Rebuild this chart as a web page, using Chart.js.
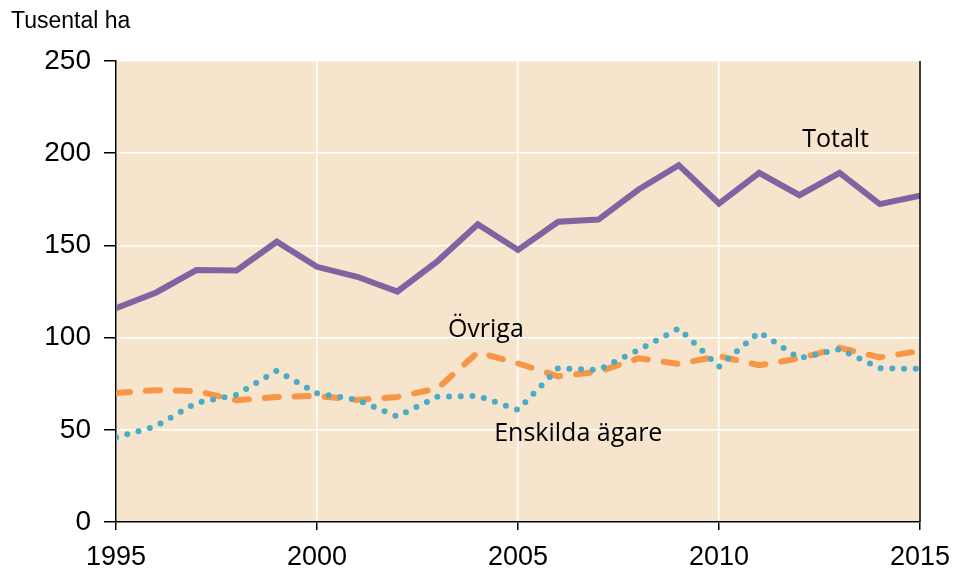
<!DOCTYPE html>
<html>
<head>
<meta charset="utf-8">
<script src="https://cdn.jsdelivr.net/npm/chart.js@4"></script>
<style>
  html, body { margin: 0; padding: 0; background: #ffffff; }
  #wrap { width: 956px; height: 573px; position: relative; }
</style>
</head>
<body>
<div id="wrap"><canvas id="areaChart"></canvas></div>
<script>
// Data (tusental ha)
const years = [1995, 1996, 1997, 1998, 1999, 2000, 2001, 2002, 2003, 2004, 2005,
               2006, 2007, 2008, 2009, 2010, 2011, 2012, 2013, 2014, 2015];
const totalt = [116, 124.5, 136.6, 136.4, 152, 138.4, 133, 125, 141.5, 161.5, 147.5,
                162.8, 164, 180.3, 193.5, 172.7, 189.3, 177.2, 189.3, 172.4, 176.9];
const ovriga = [70, 71.5, 71, 66, 67.8, 68.4, 66.2, 67.8, 72.5, 92, 86,
                79, 81.5, 88.8, 85.7, 90, 85, 88.8, 94.5, 89.3, 92.8];
const enskilda = [45.8, 52, 64.7, 69, 82, 69.8, 66.2, 57.2, 68, 68.4, 60.8,
                  83.4, 82.5, 93.3, 105, 84.2, 103, 88.8, 93.7, 83.4, 83];
const yTicks = [0, 50, 100, 150, 200, 250];
const xTicks = [1995, 2000, 2005, 2010, 2015];

// Series labels placed in data space
const seriesLabels = [
    { text: 'Totalt', x: 2012.9, y: 207 },
    { text: 'Övriga', x: 2004.2, y: 104 },
    { text: 'Enskilda ägare', x: 2006.5, y: 48 }
];

function toPoints(values) {
    return years.map(function(yr, i) { return { x: yr, y: values[i] }; });
}

// plot background + right border + text labels
const plotDecor = {
    id: 'plotDecor',
    beforeDraw: function(chart) {
        const a = chart.chartArea;
        const ctx = chart.ctx;
        ctx.save();
        ctx.fillStyle = '#F6E4CC';
        ctx.fillRect(a.left, a.top, a.right - a.left, a.bottom - a.top);
        ctx.restore();
    },
    afterDraw: function(chart) {
        const a = chart.chartArea;
        const ctx = chart.ctx;
        ctx.save();
        ctx.strokeStyle = '#000000';
        ctx.lineWidth = 1.5;
        ctx.beginPath();
        ctx.moveTo(a.right, a.top);
        ctx.lineTo(a.right, a.bottom);
        ctx.stroke();

        ctx.fillStyle = '#000000';
        ctx.font = '25px "Open Sans", "Noto Sans", sans-serif';
        ctx.textAlign = 'center';
        ctx.textBaseline = 'middle';
        seriesLabels.forEach(function(l) {
            ctx.fillText(l.text, chart.scales.x.getPixelForValue(l.x), chart.scales.y.getPixelForValue(l.y));
        });

        ctx.font = '23px "Liberation Sans", Arial, sans-serif';
        ctx.textAlign = 'left';
        ctx.textBaseline = 'alphabetic';
        ctx.fillText('Tusental ha', 11, 28);
        ctx.restore();
    }
};

document.addEventListener('DOMContentLoaded', function() {
    const canvas = document.getElementById('areaChart');
    new Chart(canvas, {
        type: 'line',
        data: {
            datasets: [{
                label: 'Enskilda ägare',
                data: toPoints(enskilda),
                borderColor: '#4BACC6',
                borderWidth: 6,
                borderDash: [0, 11.7],
                borderCapStyle: 'round',
                pointRadius: 0,
                tension: 0
            }, {
                label: 'Övriga',
                data: toPoints(ovriga),
                borderColor: '#F79646',
                borderWidth: 6,
                borderDash: [14, 16],
                borderCapStyle: 'round',
                pointRadius: 0,
                tension: 0
            }, {
                label: 'Totalt',
                data: toPoints(totalt),
                borderColor: '#8064A2',
                borderWidth: 6,
                borderJoinStyle: 'miter',
                pointRadius: 0,
                tension: 0
            }]
        },
        options: {
            responsive: true,
            maintainAspectRatio: false,
            animation: false,
            layout: { padding: { top: 61, right: 36, left: 0, bottom: 0 } },
            plugins: {
                legend: { display: false },
                tooltip: { enabled: false }
            },
            scales: {
                x: {
                    type: 'linear',
                    min: 1995,
                    max: 2015,
                    afterBuildTicks: function(axis) {
                        axis.ticks = xTicks.map(function(v) { return { value: v }; });
                    },
                    afterFit: function(axis) {
                        axis.height = 51;
                        axis.paddingLeft = 0;
                        axis.paddingRight = 0;
                    },
                    ticks: {
                        color: '#000000',
                        font: { family: '"Liberation Sans", Arial, sans-serif', size: 27 },
                        padding: 11,
                        maxRotation: 0,
                        callback: function(v) { return String(v); }
                    },
                    grid: {
                        color: '#FFFFFF',
                        lineWidth: 1.5,
                        tickColor: '#000000',
                        tickLength: 8
                    },
                    border: { display: true, color: '#000000', width: 1.5 }
                },
                y: {
                    min: 0,
                    max: 250,
                    afterBuildTicks: function(axis) {
                        axis.ticks = yTicks.map(function(v) { return { value: v }; });
                    },
                    afterFit: function(axis) {
                        axis.width = 116;
                        axis.paddingTop = 0;
                        axis.paddingBottom = 0;
                    },
                    ticks: {
                        color: '#000000',
                        font: { family: '"Liberation Sans", Arial, sans-serif', size: 28 },
                        padding: 13
                    },
                    grid: {
                        color: '#FFFFFF',
                        lineWidth: 1.5,
                        tickColor: '#000000',
                        tickLength: 12
                    },
                    border: { display: true, color: '#000000', width: 1.5 }
                }
            }
        },
        plugins: [plotDecor]
    });
});
</script>
</body>
</html>
